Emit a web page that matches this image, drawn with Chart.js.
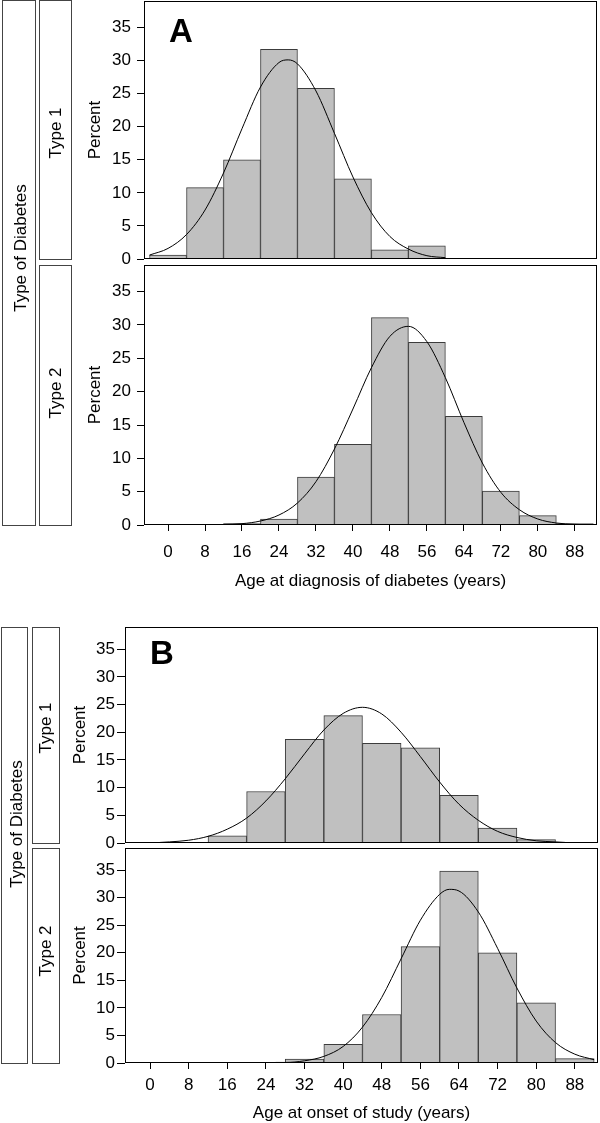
<!DOCTYPE html>
<html>
<head>
<title>Age at diagnosis and at onset of study by type of diabetes</title>
<script src="https://cdn.jsdelivr.net/npm/chart.js"></script>
<style>
  body { margin: 0; background: #fff; font-family: "Liberation Sans", Arial, sans-serif; }
  #page { position: relative; width: 600px; height: 1123px; overflow: hidden; }
  canvas { position: absolute; left: 0; }
  .strip { position: absolute; border: 1px solid #444; box-sizing: border-box; }
  .vlabel { position: absolute; font-size: 17px; line-height: 1; white-space: nowrap; transform: translate(-50%, -50%) rotate(-90deg); }
  .letter { position: absolute; font-size: 33px; font-weight: bold; line-height: 1; }
</style>
</head>
<body>
<div id="page">
  <canvas id="diag2" width="600" height="338" style="top:262px"></canvas>
  <canvas id="diag1" width="600" height="272" style="top:0px"></canvas>
  <canvas id="onset2" width="600" height="280" style="top:845px"></canvas>
  <canvas id="onset1" width="600" height="255" style="top:600px"></canvas>

  <!-- panel A strips -->
  <div class="strip" style="left:2px; top:0px; width:34px; height:526px"></div>
  <div class="strip" style="left:39px; top:0px; width:33px; height:260px"></div>
  <div class="strip" style="left:39px; top:265px; width:33px; height:261px"></div>
  <div class="vlabel" style="left:19.5px; top:248px">Type of Diabetes</div>
  <div class="vlabel" style="left:54.5px; top:133px">Type 1</div>
  <div class="vlabel" style="left:54.5px; top:393px">Type 2</div>
  <div class="letter" style="left:169px; top:14px">A</div>

  <!-- panel B strips -->
  <div class="strip" style="left:1px; top:627px; width:27px; height:437px"></div>
  <div class="strip" style="left:32px; top:627px; width:28px; height:217px"></div>
  <div class="strip" style="left:32px; top:848px; width:28px; height:216px"></div>
  <div class="vlabel" style="left:16px; top:824px">Type of Diabetes</div>
  <div class="vlabel" style="left:45px; top:728px">Type 1</div>
  <div class="vlabel" style="left:44.5px; top:951px">Type 2</div>
  <div class="letter" style="left:150px; top:636px">B</div>
</div>

<script>
const binCenters = [0, 8, 16, 24, 32, 40, 48, 56, 64, 72, 80, 88];
const xTicks = [0, 8, 16, 24, 32, 40, 48, 56, 64, 72, 80, 88];
const yTicks = [0, 5, 10, 15, 20, 25, 30, 35];

// percent of patients per 8-year bin
const diagType1 = [0.6, 10.8, 15.0, 31.7, 25.8, 12.1, 1.4, 2.0, 0, 0, 0, 0];
const diagType2 = [0, 0, 0.2, 0.9, 7.2, 12.1, 31.1, 27.4, 16.3, 5.1, 1.4, 0.2];
const onsetType1 = [0, 0, 1.3, 9.3, 18.7, 23.0, 18.0, 17.2, 8.6, 2.7, 0.6, 0];
const onsetType2 = [0, 0, 0, 0, 0.7, 3.4, 8.8, 21.1, 34.8, 20.0, 10.9, 0.8];

// fitted curves
const diagType1CurveX = [-4, 0, 4, 8, 12, 16, 20, 24, 26, 28, 32, 36, 40, 44, 48, 52, 56, 60];
const diagType1CurveY = [0.6, 1.6, 3.7, 7.4, 13.0, 19.7, 26.0, 29.7, 30.1, 29.5, 25.4, 19.0, 12.4, 7.0, 3.4, 1.5, 0.5, 0.2];
const diagType2CurveX = [12, 16, 20, 24, 28, 32, 36, 40, 44, 48, 52, 56, 60, 64, 68, 72, 76, 80, 84, 88, 92];
const diagType2CurveY = [0.1, 0.2, 0.6, 1.5, 3.3, 6.5, 11.4, 17.4, 23.6, 28.3, 29.8, 27.5, 22.1, 15.4, 9.3, 4.9, 2.3, 0.9, 0.3, 0.1, 0.0];
const onsetType1CurveX = [2, 4, 8, 12, 16, 20, 24, 28, 32, 36, 40, 44, 48, 52, 56, 60, 64, 68, 72, 76, 80, 84, 86];
const onsetType1CurveY = [0.1, 0.2, 0.5, 1.2, 2.5, 4.5, 7.6, 11.6, 16.1, 20.4, 23.4, 24.5, 23.3, 20.0, 15.6, 11.0, 7.0, 4.1, 2.1, 1.0, 0.4, 0.2, 0.1];
const onsetType2CurveX = [26, 28, 32, 36, 40, 44, 48, 52, 56, 60, 62, 64, 68, 72, 76, 80, 84, 88, 92];
const onsetType2CurveY = [0.1, 0.1, 0.4, 1.2, 3.0, 6.5, 11.9, 18.9, 25.9, 30.6, 31.5, 31.2, 27.4, 20.8, 13.6, 7.6, 3.7, 1.6, 0.6];

Chart.defaults.font.family = '"Liberation Sans", Arial, sans-serif';
Chart.defaults.font.size = 17;
Chart.defaults.color = '#000';

// box around the plot area
const frame = {
  id: 'frame',
  afterDraw(chart) {
    const a = chart.chartArea, ctx = chart.ctx;
    ctx.save();
    ctx.strokeStyle = '#000';
    ctx.lineWidth = 1;
    ctx.strokeRect(Math.round(a.left) + 0.5, Math.round(a.top) + 0.5,
      Math.round(a.right - a.left) - 1, Math.round(a.bottom - a.top) - 1);
    ctx.restore();
  }
};

function histogram(id, counts, curveX, curveY, lay) {
  const bars = binCenters.map((c, i) => ({ x: c, y: counts[i] }));
  const curve = curveX.map((x, i) => ({ x: x, y: curveY[i] }));
  return new Chart(document.getElementById(id), {
    type: 'bar',
    data: {
      datasets: [
        { type: 'line', data: curve, borderColor: '#000', borderWidth: 1, pointRadius: 0,
          cubicInterpolationMode: 'monotone', fill: false, order: 0 },
        { type: 'bar', data: bars, backgroundColor: '#c0c0c0', borderColor: '#3c3c3c',
          borderWidth: 1, barPercentage: 1, categoryPercentage: 1, grouped: false, order: 1 }
      ]
    },
    options: {
      responsive: false,
      animation: false,
      layout: { padding: lay.padding },
      plugins: { legend: { display: false }, tooltip: { enabled: false } },
      scales: {
        x: {
          type: 'linear', min: -5.2, max: 92.8, offset: false,
          afterBuildTicks: s => { s.ticks = xTicks.map(v => ({ value: v })); },
          afterFit: s => { s.height = lay.xHeight; s.paddingLeft = 0; s.paddingRight = 0; },
          grid: { display: lay.xLabels, drawOnChartArea: false, drawTicks: lay.xLabels,
                  tickLength: 6, color: '#000', offset: false },
          border: { display: false },
          ticks: { display: lay.xLabels, padding: lay.xPad, maxRotation: 0, autoSkip: false },
          title: { display: lay.xLabels, text: lay.xTitle, padding: 0 }
        },
        y: {
          min: 0, max: 39,
          afterBuildTicks: s => { s.ticks = yTicks.map(v => ({ value: v })); },
          afterFit: s => { s.width = lay.yWidth; s.paddingTop = 0; s.paddingBottom = 0; },
          grid: { drawOnChartArea: false, drawTicks: true, tickLength: lay.yTick, color: '#000' },
          border: { display: false },
          ticks: { padding: lay.yPad },
          title: { display: true, text: 'Percent', padding: 0 }
        }
      }
    },
    plugins: [frame]
  });
}

histogram('diag1', diagType1, diagType1CurveX, diagType1CurveY, {
  padding: { left: 84.8, top: 1, right: 3, bottom: 0 },
  yWidth: 59.2, yTick: 7, yPad: 6, xHeight: 13, xLabels: false
});
histogram('diag2', diagType2, diagType2CurveX, diagType2CurveY, {
  padding: { left: 84.8, top: 3, right: 3, bottom: 8.1 },
  yWidth: 59.2, yTick: 7, yPad: 6, xHeight: 66.9, xLabels: true, xPad: 10.8,
  xTitle: 'Age at diagnosis of diabetes (years)'
});
histogram('onset1', onsetType1, onsetType1CurveX, onsetType1CurveY, {
  padding: { left: 70.3, top: 27, right: 2, bottom: 0 },
  yWidth: 54.7, yTick: 8, yPad: 2, xHeight: 12, xLabels: false
});
histogram('onset2', onsetType2, onsetType2CurveX, onsetType2CurveY, {
  padding: { left: 70.3, top: 3, right: 2, bottom: 1.8 },
  yWidth: 54.7, yTick: 8, yPad: 2, xHeight: 60.2, xLabels: true, xPad: 6.1,
  xTitle: 'Age at onset of study (years)'
});
</script>
</body>
</html>
